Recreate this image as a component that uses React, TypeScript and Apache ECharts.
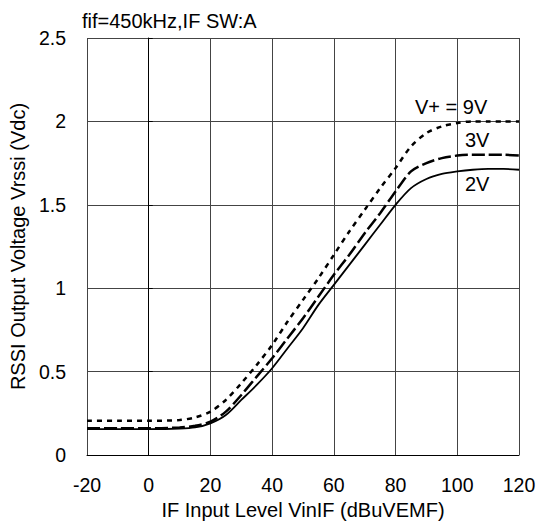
import React, { useEffect, useRef } from "react";
import * as echarts from "echarts";

const xValues = [-20, -10, 0, 10, 15, 20, 25, 30, 35, 40, 45, 50, 55, 60, 65, 70, 75, 80, 85, 90, 95, 100, 105, 110, 115, 120];
const v9 = [0.205, 0.205, 0.205, 0.21, 0.225, 0.26, 0.33, 0.43, 0.54, 0.66, 0.8, 0.93, 1.06, 1.2, 1.34, 1.47, 1.6, 1.72, 1.85, 1.93, 1.97, 1.99, 2.0, 2.0, 2.0, 2.0];
const v3 = [0.16, 0.16, 0.16, 0.165, 0.175, 0.2, 0.26, 0.36, 0.47, 0.58, 0.7, 0.82, 0.95, 1.08, 1.2, 1.33, 1.45, 1.58, 1.7, 1.75, 1.78, 1.795, 1.8, 1.8, 1.8, 1.795];
const v2 = [0.155, 0.155, 0.155, 0.158, 0.165, 0.19, 0.24, 0.33, 0.42, 0.52, 0.64, 0.76, 0.9, 1.02, 1.14, 1.26, 1.38, 1.5, 1.6, 1.655, 1.685, 1.7, 1.71, 1.715, 1.715, 1.71];

const titleText = "fif=450kHz,IF SW:A";
const xName = "IF Input Level VinIF (dBuVEMF)";
const yName = "RSSI Output Voltage Vrssi (Vdc)";
const curveLabels = ["V+ = 9V", "3V", "2V"];

const FONT = "'Liberation Sans', Arial, sans-serif";

export default function App() {
  const ref = useRef<HTMLDivElement>(null);
  useEffect(() => {
    document.body.style.margin = "0";
    if (!ref.current) return;
    const chart = echarts.init(ref.current, null, { renderer: "svg" });
    const toPairs = (arr: number[]) => xValues.map((x, i) => [x, arr[i]]);
    chart.setOption({
      animation: false,
      backgroundColor: "#fff",
      textStyle: { fontFamily: FONT, color: "#000" },
      grid: { left: 86, right: 29, top: 38, bottom: 74 },
      xAxis: {
        type: "value",
        min: -20,
        max: 120,
        interval: 20,
        name: xName,
        nameLocation: "middle",
        nameGap: 41,
        nameTextStyle: { fontSize: 20, color: "#000", fontFamily: FONT },
        axisLine: { show: true, lineStyle: { color: "#000", width: 1 } },
        axisTick: { show: false },
        axisLabel: { fontSize: 19.5, color: "#000", margin: 20, fontFamily: FONT },
        splitLine: { show: true, lineStyle: { color: "#444", width: 1 } },
      },
      yAxis: {
        type: "value",
        min: 0,
        max: 2.5,
        interval: 0.5,
        name: yName,
        nameLocation: "middle",
        nameGap: 56,
        nameTextStyle: { fontSize: 20, color: "#000", fontFamily: FONT },
        axisLine: { show: true, lineStyle: { color: "#000", width: 1 } },
        axisTick: { show: true, inside: true, length: 4, lineStyle: { color: "#000" } },
        axisLabel: { fontSize: 19.5, color: "#000", margin: 21, fontFamily: FONT },
        splitLine: { show: true, lineStyle: { color: "#444", width: 1 } },
      },
      series: [
        {
          type: "line",
          name: "9V",
          data: toPairs(v9),
          showSymbol: false,
          smooth: 0.3,
          lineStyle: { color: "#000", width: 2.5, type: [5, 5] },
        },
        {
          type: "line",
          name: "3V",
          data: toPairs(v3),
          showSymbol: false,
          smooth: 0.3,
          lineStyle: { color: "#000", width: 2.5, type: [13, 4] },
        },
        {
          type: "line",
          name: "2V",
          data: toPairs(v2),
          showSymbol: false,
          smooth: 0.3,
          lineStyle: { color: "#000", width: 1.8 },
        },
      ],
      graphic: [
        {
          type: "text",
          left: 82,
          top: 11,
          style: { text: titleText, fontSize: 20, fill: "#000", fontFamily: FONT },
        },
        {
          type: "text",
          x: 415,
          y: 107,
          style: { text: curveLabels[0], fontSize: 20, fill: "#000", fontFamily: FONT, textVerticalAlign: "middle" },
        },
        {
          type: "text",
          x: 465,
          y: 140,
          style: { text: curveLabels[1], fontSize: 20, fill: "#000", fontFamily: FONT, textVerticalAlign: "middle" },
        },
        {
          type: "text",
          x: 465,
          y: 184,
          style: { text: curveLabels[2], fontSize: 20, fill: "#000", fontFamily: FONT, textVerticalAlign: "middle" },
        },
      ],
    });
    return () => chart.dispose();
  }, []);
  return <div ref={ref} style={{ width: 548, height: 529 }} />;
}
